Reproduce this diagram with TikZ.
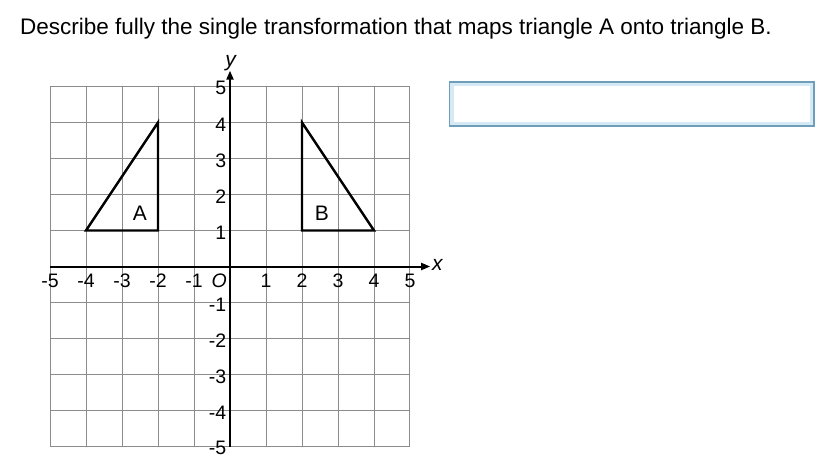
\documentclass[tikz,border=0pt]{standalone}
\usepackage{fontspec}
\setmainfont{Liberation Sans}
\usetikzlibrary{arrows.meta}
\definecolor{boxedge}{RGB}{110,158,184}
\definecolor{boxglow}{RGB}{214,234,246}
\definecolor{gridgray}{RGB}{140,140,140}
\begin{document}
\begin{tikzpicture}[x=1pt,y=1pt,
  gridline/.style={draw=gridgray,line width=1pt},
  axisline/.style={draw=black,line width=2pt,-{Triangle[length=9pt,width=7pt]}},
  triline/.style={draw=black,line width=2.4pt,line join=miter},
  ticklab/.style={font=\fontsize{19.5}{22}\selectfont,inner sep=0pt},
  trilab/.style={font=\fontsize{21}{24}\selectfont,inner sep=0pt}]
\useasboundingbox (0,0) rectangle (821,-473);
\node[anchor=base west,inner sep=0pt,font=\fontsize{22.5}{26}\selectfont] (title) at (20,-35)
  {Describe fully the single transformation that maps triangle A onto triangle B.};
% answer box
\draw[boxglow,line width=4pt] (451.5,-84) rectangle (812,-124);
\draw[boxedge,line width=1.6pt] (449.5,-82) rectangle (814,-126);
\begin{scope}[shift={(230,-266.5)},x=36pt,y=36pt]
  \draw[gridline,step=36pt] (-5,-5) grid (5,5);
  \coordinate (xs) at (-5,0);
  \coordinate (xe) at (5.56,0);
  \coordinate (ys) at (0,-5);
  \coordinate (ye) at (0,5.44);
  \draw[axisline] (xs) -- (xe);
  \draw[axisline] (ys) -- (ye);
  \node[font=\fontsize{21}{24}\selectfont\itshape,anchor=west,inner sep=1pt] (xl) at (5.58,0.04) {x};
  \node[font=\fontsize{21}{24}\selectfont\itshape,anchor=south,inner sep=0pt] (yl) at (0.02,5.43) {y};
  \foreach \i in {-5,-4,-3,-2,-1,1,2,3,4,5}{
    \node[ticklab] (xt\i) at (\i,-0.39) {\i};
  }
  \node[ticklab,font=\fontsize{19.5}{22}\selectfont\itshape] (orig) at (-0.3,-0.39) {O};
  \foreach \i in {-5,-4,-3,-2,-1,1,2,3,4,5}{
    \node[ticklab,anchor=east] (yt\i) at (-0.1,\i-0.05) {\i};
  }
  % triangle A
  \coordinate (a1) at (-4,1);
  \coordinate (a2) at (-2,1);
  \coordinate (a3) at (-2,4);
  \draw[triline] (a1) -- (a2) -- (a3) -- cycle;
  \node[trilab] (la) at (-2.5,1.49) {A};
  % triangle B
  \coordinate (b1) at (2,1);
  \coordinate (b2) at (4,1);
  \coordinate (b3) at (2,4);
  \draw[triline] (b1) -- (b2) -- (b3) -- cycle;
  \node[trilab] (lb) at (2.55,1.48) {B};
\end{scope}
\end{tikzpicture}
\end{document}
